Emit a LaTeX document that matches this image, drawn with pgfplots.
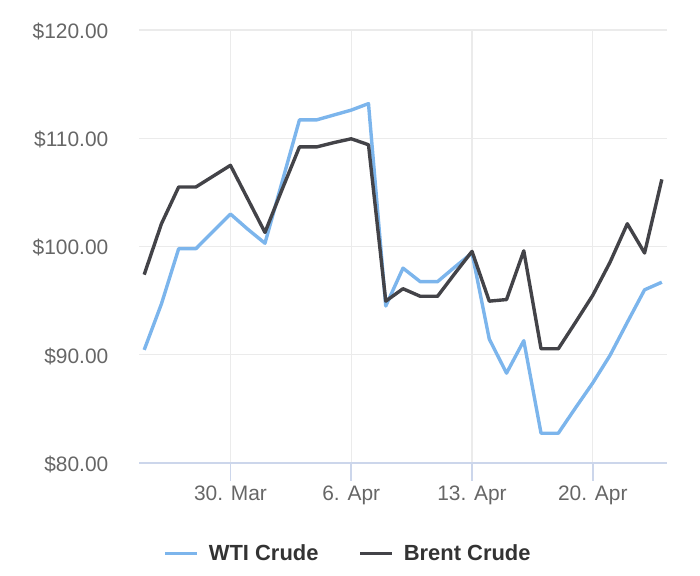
\documentclass[border=0pt]{standalone}
\usepackage{pgfplots}
\pgfplotsset{compat=1.18}
\usepackage{fontspec}
\setmainfont{Liberation Sans}
\definecolor{wti}{HTML}{7CB5EC}
\definecolor{brent}{HTML}{434348}
\definecolor{gridc}{HTML}{EBEBEB}
\definecolor{axc}{HTML}{CCD6EB}
\definecolor{lab}{HTML}{666666}
\definecolor{leg}{HTML}{333333}
\begin{document}
\begin{tikzpicture}
\useasboundingbox (0,0) rectangle (700bp,576bp);
\begin{axis}[
 at={(139bp,113bp)}, anchor=south west,
 scale only axis, width=528bp, height=433bp,
 xmin=-0.3, xmax=30.3, ymin=80, ymax=120,
 axis x line*=bottom, axis y line*=left,
 y axis line style={draw=none},
 x axis line style={axc, line width=1.6bp},
 tick align=outside,
 major tick length=17.5bp,
 xtick style={axc, line width=1.6bp},
 ytick style={draw=none},
 xtick={5,12,19,26},
 xticklabels={30. Mar, 6. Apr, 13. Apr, 20. Apr},
 ytick={80,90,100,110,120},
 yticklabels={\$80.00,\$90.00,\$100.00,\$110.00,\$120.00},
 xticklabel style={font=\fontsize{21}{25}\selectfont, text=lab, anchor=base, inner sep=0pt, yshift=-20bp},
 yticklabel style={font=\fontsize{21}{25}\selectfont, text=lab, anchor=base east, inner sep=0pt, xshift=-13bp, yshift=-8.5bp},
 grid=major,
 major grid style={gridc, line width=1.2bp},
 legend columns=2,
 legend style={draw=none, fill=none, at={(0.394,-0.209)}, anchor=center,
   font=\fontsize{22}{26}\selectfont\bfseries, text=leg,
   nodes={inner sep=0pt},
   /tikz/every odd column/.append style={column sep=10bp},
   /tikz/every even column/.append style={column sep=40bp}},
 legend image code/.code={\draw[#1, line width=3.4bp] (0bp,0bp) -- (32bp,0bp);},
]
\addplot[wti, line width=3.4bp, line join=round] coordinates {
(0,90.45) (1,94.7) (2,99.8) (3,99.8) (4,101.4) (5,103.0) (6,101.6) (7,100.3)
(8,106.0) (9,111.7) (10,111.7) (11,112.15) (12,112.6) (13,113.2) (14,94.5)
(15,98.0) (16,96.75) (17,96.75) (18,98.1) (19,99.4) (20,91.45) (21,88.3)
(22,91.3) (23,82.75) (24,82.75) (25,85.1) (26,87.4) (27,89.95) (28,93.0)
(29,96.0) (30,96.7)};
\addlegendentry{WTI Crude}
\addplot[brent, line width=3.4bp, line join=round] coordinates {
(0,97.4) (1,102.1) (2,105.5) (3,105.5) (4,106.5) (5,107.5) (6,104.4) (7,101.3)
(8,105.3) (9,109.2) (10,109.2) (11,109.6) (12,109.95) (13,109.4) (14,94.95)
(15,96.1) (16,95.4) (17,95.4) (18,97.5) (19,99.55) (20,94.95) (21,95.1)
(22,99.6) (23,90.55) (24,90.55) (25,93.0) (26,95.5) (27,98.55) (28,102.1)
(29,99.4) (30,106.2)};
\addlegendentry{Brent Crude}
\end{axis}
\end{tikzpicture}
\end{document}
